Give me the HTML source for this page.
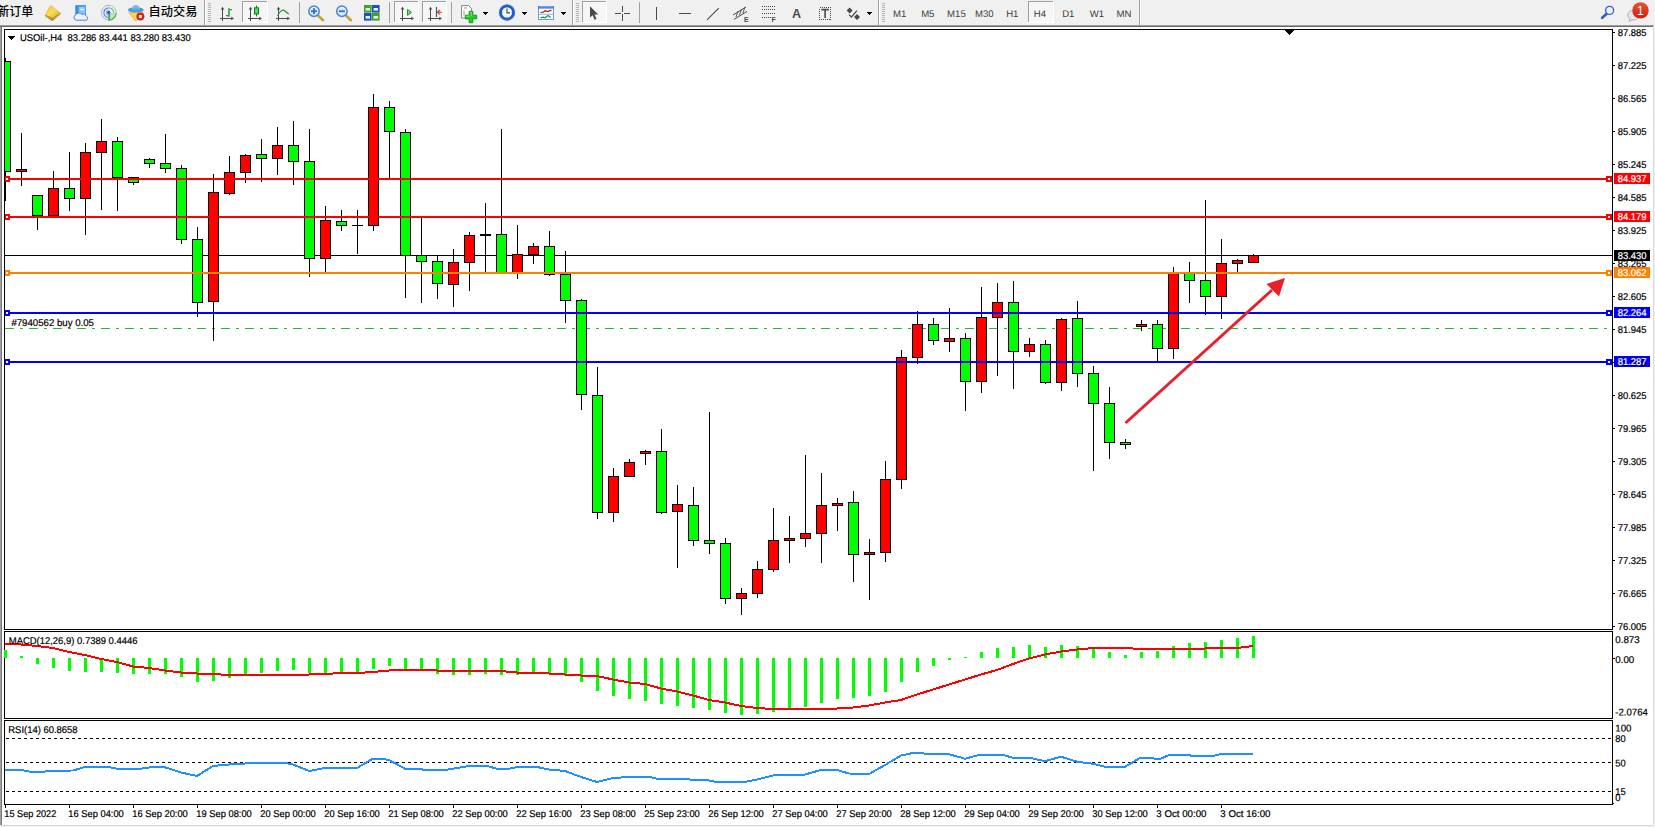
<!DOCTYPE html>
<html><head><meta charset="utf-8"><title>USOil H4</title>
<style>
html,body{margin:0;padding:0;background:#fff;overflow:hidden}
body{width:1655px;height:827px;position:relative;font-family:"Liberation Sans","Noto Sans CJK SC",sans-serif}
#tb{position:absolute;left:0;top:0;width:1655px;height:25px;background:#f0f0f0}
#tb .strip{position:absolute;left:0;top:25px;width:1655px;height:2px;background:#a0a0a0}
</style></head><body>
<svg width="1655" height="827" viewBox="0 0 1655 827" style="position:absolute;left:0;top:0" shape-rendering="crispEdges"><rect x="0" y="25" width="1655" height="802" fill="#ffffff"/>
<rect x="5" y="255" width="1607" height="1" fill="#000"/>
<line x1="5" y1="328.5" x2="1612" y2="328.5" stroke="#20c020" stroke-width="1" stroke-dasharray="9,6,3,6"/>
<rect x="5" y="58" width="1" height="143" fill="#000"/>
<rect x="0" y="61" width="11" height="111" fill="#000"/>
<rect x="1" y="62" width="9" height="109" fill="#00ff00"/>
<rect x="21" y="133" width="1" height="53" fill="#000"/>
<rect x="16" y="169" width="11" height="3" fill="#000"/>
<rect x="17" y="170" width="9" height="1" fill="#ff0000"/>
<rect x="37" y="195" width="1" height="35" fill="#000"/>
<rect x="32" y="195" width="11" height="21" fill="#000"/>
<rect x="33" y="196" width="9" height="19" fill="#00ff00"/>
<rect x="53" y="171" width="1" height="45" fill="#000"/>
<rect x="48" y="188" width="11" height="28" fill="#000"/>
<rect x="49" y="189" width="9" height="26" fill="#ff0000"/>
<rect x="69" y="152" width="1" height="59" fill="#000"/>
<rect x="64" y="188" width="11" height="11" fill="#000"/>
<rect x="65" y="189" width="9" height="9" fill="#00ff00"/>
<rect x="85" y="143" width="1" height="92" fill="#000"/>
<rect x="80" y="152" width="11" height="47" fill="#000"/>
<rect x="81" y="153" width="9" height="45" fill="#ff0000"/>
<rect x="101" y="119" width="1" height="91" fill="#000"/>
<rect x="96" y="141" width="11" height="12" fill="#000"/>
<rect x="97" y="142" width="9" height="10" fill="#ff0000"/>
<rect x="117" y="137" width="1" height="74" fill="#000"/>
<rect x="112" y="141" width="11" height="37" fill="#000"/>
<rect x="113" y="142" width="9" height="35" fill="#00ff00"/>
<rect x="133" y="177" width="1" height="8" fill="#000"/>
<rect x="128" y="177" width="11" height="6" fill="#000"/>
<rect x="129" y="178" width="9" height="4" fill="#00ff00"/>
<rect x="149" y="158" width="1" height="10" fill="#000"/>
<rect x="144" y="159" width="11" height="5" fill="#000"/>
<rect x="145" y="160" width="9" height="3" fill="#00ff00"/>
<rect x="165" y="134" width="1" height="39" fill="#000"/>
<rect x="160" y="163" width="11" height="6" fill="#000"/>
<rect x="161" y="164" width="9" height="4" fill="#00ff00"/>
<rect x="181" y="165" width="1" height="79" fill="#000"/>
<rect x="176" y="168" width="11" height="72" fill="#000"/>
<rect x="177" y="169" width="9" height="70" fill="#00ff00"/>
<rect x="197" y="227" width="1" height="90" fill="#000"/>
<rect x="192" y="239" width="11" height="64" fill="#000"/>
<rect x="193" y="240" width="9" height="62" fill="#00ff00"/>
<rect x="213" y="174" width="1" height="167" fill="#000"/>
<rect x="208" y="192" width="11" height="110" fill="#000"/>
<rect x="209" y="193" width="9" height="108" fill="#ff0000"/>
<rect x="229" y="156" width="1" height="39" fill="#000"/>
<rect x="224" y="172" width="11" height="22" fill="#000"/>
<rect x="225" y="173" width="9" height="20" fill="#ff0000"/>
<rect x="245" y="154" width="1" height="29" fill="#000"/>
<rect x="240" y="155" width="11" height="18" fill="#000"/>
<rect x="241" y="156" width="9" height="16" fill="#ff0000"/>
<rect x="261" y="139" width="1" height="43" fill="#000"/>
<rect x="256" y="154" width="11" height="5" fill="#000"/>
<rect x="257" y="155" width="9" height="3" fill="#00ff00"/>
<rect x="277" y="127" width="1" height="48" fill="#000"/>
<rect x="272" y="145" width="11" height="14" fill="#000"/>
<rect x="273" y="146" width="9" height="12" fill="#ff0000"/>
<rect x="293" y="121" width="1" height="64" fill="#000"/>
<rect x="288" y="145" width="11" height="17" fill="#000"/>
<rect x="289" y="146" width="9" height="15" fill="#00ff00"/>
<rect x="309" y="129" width="1" height="148" fill="#000"/>
<rect x="304" y="161" width="11" height="98" fill="#000"/>
<rect x="305" y="162" width="9" height="96" fill="#00ff00"/>
<rect x="325" y="206" width="1" height="66" fill="#000"/>
<rect x="320" y="220" width="11" height="39" fill="#000"/>
<rect x="321" y="221" width="9" height="37" fill="#ff0000"/>
<rect x="341" y="210" width="1" height="21" fill="#000"/>
<rect x="336" y="221" width="11" height="5" fill="#000"/>
<rect x="337" y="222" width="9" height="3" fill="#00ff00"/>
<rect x="357" y="210" width="1" height="44" fill="#000"/>
<rect x="352" y="225" width="11" height="1" fill="#000"/>
<rect x="373" y="94" width="1" height="137" fill="#000"/>
<rect x="368" y="107" width="11" height="119" fill="#000"/>
<rect x="369" y="108" width="9" height="117" fill="#ff0000"/>
<rect x="389" y="101" width="1" height="77" fill="#000"/>
<rect x="384" y="107" width="11" height="25" fill="#000"/>
<rect x="385" y="108" width="9" height="23" fill="#00ff00"/>
<rect x="405" y="129" width="1" height="169" fill="#000"/>
<rect x="400" y="132" width="11" height="124" fill="#000"/>
<rect x="401" y="133" width="9" height="122" fill="#00ff00"/>
<rect x="421" y="217" width="1" height="86" fill="#000"/>
<rect x="416" y="255" width="11" height="7" fill="#000"/>
<rect x="417" y="256" width="9" height="5" fill="#00ff00"/>
<rect x="437" y="256" width="1" height="43" fill="#000"/>
<rect x="432" y="261" width="11" height="23" fill="#000"/>
<rect x="433" y="262" width="9" height="21" fill="#00ff00"/>
<rect x="453" y="249" width="1" height="58" fill="#000"/>
<rect x="448" y="262" width="11" height="23" fill="#000"/>
<rect x="449" y="263" width="9" height="21" fill="#ff0000"/>
<rect x="469" y="232" width="1" height="59" fill="#000"/>
<rect x="464" y="235" width="11" height="28" fill="#000"/>
<rect x="465" y="236" width="9" height="26" fill="#ff0000"/>
<rect x="485" y="203" width="1" height="69" fill="#000"/>
<rect x="480" y="234" width="11" height="2" fill="#000"/>
<rect x="501" y="129" width="1" height="144" fill="#000"/>
<rect x="496" y="234" width="11" height="39" fill="#000"/>
<rect x="497" y="235" width="9" height="37" fill="#00ff00"/>
<rect x="517" y="225" width="1" height="54" fill="#000"/>
<rect x="512" y="254" width="11" height="19" fill="#000"/>
<rect x="513" y="255" width="9" height="17" fill="#ff0000"/>
<rect x="533" y="243" width="1" height="21" fill="#000"/>
<rect x="528" y="246" width="11" height="9" fill="#000"/>
<rect x="529" y="247" width="9" height="7" fill="#ff0000"/>
<rect x="549" y="231" width="1" height="45" fill="#000"/>
<rect x="544" y="246" width="11" height="29" fill="#000"/>
<rect x="545" y="247" width="9" height="27" fill="#00ff00"/>
<rect x="565" y="251" width="1" height="72" fill="#000"/>
<rect x="560" y="274" width="11" height="27" fill="#000"/>
<rect x="561" y="275" width="9" height="25" fill="#00ff00"/>
<rect x="581" y="299" width="1" height="111" fill="#000"/>
<rect x="576" y="300" width="11" height="95" fill="#000"/>
<rect x="577" y="301" width="9" height="93" fill="#00ff00"/>
<rect x="597" y="367" width="1" height="152" fill="#000"/>
<rect x="592" y="395" width="11" height="118" fill="#000"/>
<rect x="593" y="396" width="9" height="116" fill="#00ff00"/>
<rect x="613" y="468" width="1" height="54" fill="#000"/>
<rect x="608" y="476" width="11" height="37" fill="#000"/>
<rect x="609" y="477" width="9" height="35" fill="#ff0000"/>
<rect x="629" y="459" width="1" height="18" fill="#000"/>
<rect x="624" y="462" width="11" height="15" fill="#000"/>
<rect x="625" y="463" width="9" height="13" fill="#ff0000"/>
<rect x="645" y="450" width="1" height="15" fill="#000"/>
<rect x="640" y="451" width="11" height="3" fill="#000"/>
<rect x="641" y="452" width="9" height="1" fill="#ff0000"/>
<rect x="661" y="429" width="1" height="85" fill="#000"/>
<rect x="656" y="451" width="11" height="62" fill="#000"/>
<rect x="657" y="452" width="9" height="60" fill="#00ff00"/>
<rect x="677" y="485" width="1" height="83" fill="#000"/>
<rect x="672" y="504" width="11" height="8" fill="#000"/>
<rect x="673" y="505" width="9" height="6" fill="#ff0000"/>
<rect x="693" y="487" width="1" height="59" fill="#000"/>
<rect x="688" y="505" width="11" height="36" fill="#000"/>
<rect x="689" y="506" width="9" height="34" fill="#00ff00"/>
<rect x="709" y="412" width="1" height="142" fill="#000"/>
<rect x="704" y="540" width="11" height="4" fill="#000"/>
<rect x="705" y="541" width="9" height="2" fill="#00ff00"/>
<rect x="725" y="538" width="1" height="66" fill="#000"/>
<rect x="720" y="543" width="11" height="56" fill="#000"/>
<rect x="721" y="544" width="9" height="54" fill="#00ff00"/>
<rect x="741" y="588" width="1" height="27" fill="#000"/>
<rect x="736" y="593" width="11" height="6" fill="#000"/>
<rect x="737" y="594" width="9" height="4" fill="#ff0000"/>
<rect x="757" y="561" width="1" height="37" fill="#000"/>
<rect x="752" y="569" width="11" height="25" fill="#000"/>
<rect x="753" y="570" width="9" height="23" fill="#ff0000"/>
<rect x="773" y="508" width="1" height="64" fill="#000"/>
<rect x="768" y="540" width="11" height="30" fill="#000"/>
<rect x="769" y="541" width="9" height="28" fill="#ff0000"/>
<rect x="789" y="516" width="1" height="47" fill="#000"/>
<rect x="784" y="538" width="11" height="3" fill="#000"/>
<rect x="785" y="539" width="9" height="1" fill="#ff0000"/>
<rect x="805" y="455" width="1" height="92" fill="#000"/>
<rect x="800" y="533" width="11" height="6" fill="#000"/>
<rect x="801" y="534" width="9" height="4" fill="#ff0000"/>
<rect x="821" y="473" width="1" height="90" fill="#000"/>
<rect x="816" y="505" width="11" height="29" fill="#000"/>
<rect x="817" y="506" width="9" height="27" fill="#ff0000"/>
<rect x="837" y="498" width="1" height="33" fill="#000"/>
<rect x="832" y="503" width="11" height="3" fill="#000"/>
<rect x="833" y="504" width="9" height="1" fill="#ff0000"/>
<rect x="853" y="491" width="1" height="91" fill="#000"/>
<rect x="848" y="502" width="11" height="53" fill="#000"/>
<rect x="849" y="503" width="9" height="51" fill="#00ff00"/>
<rect x="869" y="539" width="1" height="61" fill="#000"/>
<rect x="864" y="552" width="11" height="3" fill="#000"/>
<rect x="865" y="553" width="9" height="1" fill="#ff0000"/>
<rect x="885" y="461" width="1" height="101" fill="#000"/>
<rect x="880" y="479" width="11" height="74" fill="#000"/>
<rect x="881" y="480" width="9" height="72" fill="#ff0000"/>
<rect x="901" y="350" width="1" height="139" fill="#000"/>
<rect x="896" y="357" width="11" height="123" fill="#000"/>
<rect x="897" y="358" width="9" height="121" fill="#ff0000"/>
<rect x="917" y="311" width="1" height="53" fill="#000"/>
<rect x="912" y="324" width="11" height="34" fill="#000"/>
<rect x="913" y="325" width="9" height="32" fill="#ff0000"/>
<rect x="933" y="318" width="1" height="27" fill="#000"/>
<rect x="928" y="324" width="11" height="17" fill="#000"/>
<rect x="929" y="325" width="9" height="15" fill="#00ff00"/>
<rect x="949" y="308" width="1" height="44" fill="#000"/>
<rect x="944" y="338" width="11" height="4" fill="#000"/>
<rect x="945" y="339" width="9" height="2" fill="#ff0000"/>
<rect x="965" y="333" width="1" height="78" fill="#000"/>
<rect x="960" y="338" width="11" height="44" fill="#000"/>
<rect x="961" y="339" width="9" height="42" fill="#00ff00"/>
<rect x="981" y="287" width="1" height="106" fill="#000"/>
<rect x="976" y="317" width="11" height="65" fill="#000"/>
<rect x="977" y="318" width="9" height="63" fill="#ff0000"/>
<rect x="997" y="283" width="1" height="93" fill="#000"/>
<rect x="992" y="302" width="11" height="16" fill="#000"/>
<rect x="993" y="303" width="9" height="14" fill="#ff0000"/>
<rect x="1013" y="281" width="1" height="108" fill="#000"/>
<rect x="1008" y="302" width="11" height="50" fill="#000"/>
<rect x="1009" y="303" width="9" height="48" fill="#00ff00"/>
<rect x="1029" y="338" width="1" height="19" fill="#000"/>
<rect x="1024" y="344" width="11" height="8" fill="#000"/>
<rect x="1025" y="345" width="9" height="6" fill="#ff0000"/>
<rect x="1045" y="340" width="1" height="44" fill="#000"/>
<rect x="1040" y="344" width="11" height="39" fill="#000"/>
<rect x="1041" y="345" width="9" height="37" fill="#00ff00"/>
<rect x="1061" y="318" width="1" height="73" fill="#000"/>
<rect x="1056" y="319" width="11" height="64" fill="#000"/>
<rect x="1057" y="320" width="9" height="62" fill="#ff0000"/>
<rect x="1077" y="301" width="1" height="86" fill="#000"/>
<rect x="1072" y="318" width="11" height="56" fill="#000"/>
<rect x="1073" y="319" width="9" height="54" fill="#00ff00"/>
<rect x="1093" y="366" width="1" height="105" fill="#000"/>
<rect x="1088" y="373" width="11" height="31" fill="#000"/>
<rect x="1089" y="374" width="9" height="29" fill="#00ff00"/>
<rect x="1109" y="387" width="1" height="72" fill="#000"/>
<rect x="1104" y="403" width="11" height="40" fill="#000"/>
<rect x="1105" y="404" width="9" height="38" fill="#00ff00"/>
<rect x="1125" y="439" width="1" height="10" fill="#000"/>
<rect x="1120" y="442" width="11" height="3" fill="#000"/>
<rect x="1121" y="443" width="9" height="1" fill="#00ff00"/>
<rect x="1141" y="320" width="1" height="11" fill="#000"/>
<rect x="1136" y="324" width="11" height="3" fill="#000"/>
<rect x="1137" y="325" width="9" height="1" fill="#ff0000"/>
<rect x="1157" y="320" width="1" height="41" fill="#000"/>
<rect x="1152" y="324" width="11" height="25" fill="#000"/>
<rect x="1153" y="325" width="9" height="23" fill="#00ff00"/>
<rect x="1173" y="267" width="1" height="92" fill="#000"/>
<rect x="1168" y="273" width="11" height="76" fill="#000"/>
<rect x="1169" y="274" width="9" height="74" fill="#ff0000"/>
<rect x="1189" y="262" width="1" height="41" fill="#000"/>
<rect x="1184" y="273" width="11" height="8" fill="#000"/>
<rect x="1185" y="274" width="9" height="6" fill="#00ff00"/>
<rect x="1205" y="200" width="1" height="115" fill="#000"/>
<rect x="1200" y="280" width="11" height="17" fill="#000"/>
<rect x="1201" y="281" width="9" height="15" fill="#00ff00"/>
<rect x="1221" y="239" width="1" height="80" fill="#000"/>
<rect x="1216" y="263" width="11" height="34" fill="#000"/>
<rect x="1217" y="264" width="9" height="32" fill="#ff0000"/>
<rect x="1237" y="259" width="1" height="13" fill="#000"/>
<rect x="1232" y="260" width="11" height="4" fill="#000"/>
<rect x="1233" y="261" width="9" height="2" fill="#ff0000"/>
<rect x="1253" y="254" width="1" height="9" fill="#000"/>
<rect x="1248" y="255" width="11" height="8" fill="#000"/>
<rect x="1249" y="256" width="9" height="6" fill="#ff0000"/>
<rect x="5" y="178" width="1607" height="2" fill="#ff0000"/>
<rect x="4" y="176" width="6" height="6" fill="#ff0000"/>
<rect x="6" y="178" width="2" height="2" fill="#fff"/>
<rect x="1606" y="176" width="6" height="6" fill="#ff0000"/>
<rect x="1608" y="178" width="2" height="2" fill="#fff"/>
<rect x="5" y="216" width="1607" height="2" fill="#ff0000"/>
<rect x="4" y="214" width="6" height="6" fill="#ff0000"/>
<rect x="6" y="216" width="2" height="2" fill="#fff"/>
<rect x="1606" y="214" width="6" height="6" fill="#ff0000"/>
<rect x="1608" y="216" width="2" height="2" fill="#fff"/>
<rect x="5" y="272" width="1607" height="2" fill="#ff8000"/>
<rect x="4" y="270" width="6" height="6" fill="#ff8000"/>
<rect x="6" y="272" width="2" height="2" fill="#fff"/>
<rect x="1606" y="270" width="6" height="6" fill="#ff8000"/>
<rect x="1608" y="272" width="2" height="2" fill="#fff"/>
<rect x="5" y="312" width="1607" height="2" fill="#0000ff"/>
<rect x="4" y="310" width="6" height="6" fill="#0000ff"/>
<rect x="6" y="312" width="2" height="2" fill="#fff"/>
<rect x="1606" y="310" width="6" height="6" fill="#0000ff"/>
<rect x="1608" y="312" width="2" height="2" fill="#fff"/>
<rect x="5" y="361" width="1607" height="2" fill="#0000ff"/>
<rect x="4" y="359" width="6" height="6" fill="#0000ff"/>
<rect x="6" y="361" width="2" height="2" fill="#fff"/>
<rect x="1606" y="359" width="6" height="6" fill="#0000ff"/>
<rect x="1608" y="361" width="2" height="2" fill="#fff"/>
<rect x="0" y="25" width="4" height="802" fill="#fff"/>
<rect x="0" y="25" width="1" height="802" fill="#a0a0a0"/>
<rect x="1" y="25" width="1" height="802" fill="#787878"/>
<rect x="4" y="29" width="1" height="776" fill="#000"/>
<rect x="4" y="29" width="1609" height="1" fill="#000"/>
<rect x="1612" y="29" width="1" height="776" fill="#000"/>
<rect x="4" y="629" width="1609" height="1" fill="#000"/>
<rect x="4" y="630" width="1609" height="1" fill="#fff"/>
<rect x="4" y="631" width="1609" height="1" fill="#000"/>
<rect x="4" y="718" width="1609" height="1" fill="#000"/>
<rect x="4" y="719" width="1609" height="1" fill="#fff"/>
<rect x="4" y="720" width="1609" height="1" fill="#000"/>
<rect x="4" y="804" width="1609" height="1" fill="#000"/>
<rect x="5" y="805" width="1650" height="20" fill="#fff"/>
<rect x="1285" y="30" width="9" height="1" fill="#000"/>
<rect x="1286" y="31" width="7" height="1" fill="#000"/>
<rect x="1287" y="32" width="5" height="1" fill="#000"/>
<rect x="1288" y="33" width="3" height="1" fill="#000"/>
<rect x="1289" y="34" width="1" height="1" fill="#000"/>
<rect x="1613" y="32" width="2" height="1" fill="#000"/>
<rect x="1613" y="65" width="2" height="1" fill="#000"/>
<rect x="1613" y="98" width="2" height="1" fill="#000"/>
<rect x="1613" y="131" width="2" height="1" fill="#000"/>
<rect x="1613" y="164" width="2" height="1" fill="#000"/>
<rect x="1613" y="197" width="2" height="1" fill="#000"/>
<rect x="1613" y="230" width="2" height="1" fill="#000"/>
<rect x="1613" y="263" width="2" height="1" fill="#000"/>
<rect x="1613" y="296" width="2" height="1" fill="#000"/>
<rect x="1613" y="329" width="2" height="1" fill="#000"/>
<rect x="1613" y="362" width="2" height="1" fill="#000"/>
<rect x="1613" y="395" width="2" height="1" fill="#000"/>
<rect x="1613" y="428" width="2" height="1" fill="#000"/>
<rect x="1613" y="461" width="2" height="1" fill="#000"/>
<rect x="1613" y="494" width="2" height="1" fill="#000"/>
<rect x="1613" y="527" width="2" height="1" fill="#000"/>
<rect x="1613" y="560" width="2" height="1" fill="#000"/>
<rect x="1613" y="593" width="2" height="1" fill="#000"/>
<rect x="1613" y="626" width="2" height="1" fill="#000"/>
<rect x="4" y="650" width="3" height="8" fill="#00ff00"/>
<rect x="20" y="656" width="3" height="2" fill="#00ff00"/>
<rect x="36" y="658" width="3" height="6" fill="#00ff00"/>
<rect x="52" y="658" width="3" height="10" fill="#00ff00"/>
<rect x="68" y="658" width="3" height="13" fill="#00ff00"/>
<rect x="84" y="658" width="3" height="14" fill="#00ff00"/>
<rect x="100" y="658" width="3" height="14" fill="#00ff00"/>
<rect x="116" y="658" width="3" height="15" fill="#00ff00"/>
<rect x="132" y="658" width="3" height="16" fill="#00ff00"/>
<rect x="148" y="658" width="3" height="16" fill="#00ff00"/>
<rect x="164" y="658" width="3" height="16" fill="#00ff00"/>
<rect x="180" y="658" width="3" height="19" fill="#00ff00"/>
<rect x="196" y="658" width="3" height="24" fill="#00ff00"/>
<rect x="212" y="658" width="3" height="23" fill="#00ff00"/>
<rect x="228" y="658" width="3" height="20" fill="#00ff00"/>
<rect x="244" y="658" width="3" height="17" fill="#00ff00"/>
<rect x="260" y="658" width="3" height="15" fill="#00ff00"/>
<rect x="276" y="658" width="3" height="13" fill="#00ff00"/>
<rect x="292" y="658" width="3" height="12" fill="#00ff00"/>
<rect x="308" y="658" width="3" height="15" fill="#00ff00"/>
<rect x="324" y="658" width="3" height="15" fill="#00ff00"/>
<rect x="340" y="658" width="3" height="15" fill="#00ff00"/>
<rect x="356" y="658" width="3" height="14" fill="#00ff00"/>
<rect x="372" y="658" width="3" height="11" fill="#00ff00"/>
<rect x="388" y="658" width="3" height="8" fill="#00ff00"/>
<rect x="404" y="658" width="3" height="11" fill="#00ff00"/>
<rect x="420" y="658" width="3" height="12" fill="#00ff00"/>
<rect x="436" y="658" width="3" height="16" fill="#00ff00"/>
<rect x="452" y="658" width="3" height="17" fill="#00ff00"/>
<rect x="468" y="658" width="3" height="17" fill="#00ff00"/>
<rect x="484" y="658" width="3" height="16" fill="#00ff00"/>
<rect x="500" y="658" width="3" height="17" fill="#00ff00"/>
<rect x="516" y="658" width="3" height="17" fill="#00ff00"/>
<rect x="532" y="658" width="3" height="15" fill="#00ff00"/>
<rect x="548" y="658" width="3" height="16" fill="#00ff00"/>
<rect x="564" y="658" width="3" height="18" fill="#00ff00"/>
<rect x="580" y="658" width="3" height="24" fill="#00ff00"/>
<rect x="596" y="658" width="3" height="33" fill="#00ff00"/>
<rect x="612" y="658" width="3" height="38" fill="#00ff00"/>
<rect x="628" y="658" width="3" height="41" fill="#00ff00"/>
<rect x="644" y="658" width="3" height="43" fill="#00ff00"/>
<rect x="660" y="658" width="3" height="46" fill="#00ff00"/>
<rect x="676" y="658" width="3" height="48" fill="#00ff00"/>
<rect x="692" y="658" width="3" height="50" fill="#00ff00"/>
<rect x="708" y="658" width="3" height="52" fill="#00ff00"/>
<rect x="724" y="658" width="3" height="55" fill="#00ff00"/>
<rect x="740" y="658" width="3" height="57" fill="#00ff00"/>
<rect x="756" y="658" width="3" height="56" fill="#00ff00"/>
<rect x="772" y="658" width="3" height="54" fill="#00ff00"/>
<rect x="788" y="658" width="3" height="51" fill="#00ff00"/>
<rect x="804" y="658" width="3" height="49" fill="#00ff00"/>
<rect x="820" y="658" width="3" height="45" fill="#00ff00"/>
<rect x="836" y="658" width="3" height="41" fill="#00ff00"/>
<rect x="852" y="658" width="3" height="40" fill="#00ff00"/>
<rect x="868" y="658" width="3" height="38" fill="#00ff00"/>
<rect x="884" y="658" width="3" height="34" fill="#00ff00"/>
<rect x="900" y="658" width="3" height="24" fill="#00ff00"/>
<rect x="916" y="658" width="3" height="14" fill="#00ff00"/>
<rect x="932" y="658" width="3" height="8" fill="#00ff00"/>
<rect x="948" y="658" width="3" height="2" fill="#00ff00"/>
<rect x="964" y="657" width="3" height="1" fill="#00ff00"/>
<rect x="980" y="652" width="3" height="6" fill="#00ff00"/>
<rect x="996" y="648" width="3" height="10" fill="#00ff00"/>
<rect x="1012" y="647" width="3" height="11" fill="#00ff00"/>
<rect x="1028" y="645" width="3" height="13" fill="#00ff00"/>
<rect x="1044" y="647" width="3" height="11" fill="#00ff00"/>
<rect x="1060" y="645" width="3" height="13" fill="#00ff00"/>
<rect x="1076" y="646" width="3" height="12" fill="#00ff00"/>
<rect x="1092" y="649" width="3" height="9" fill="#00ff00"/>
<rect x="1108" y="652" width="3" height="6" fill="#00ff00"/>
<rect x="1124" y="655" width="3" height="3" fill="#00ff00"/>
<rect x="1140" y="652" width="3" height="6" fill="#00ff00"/>
<rect x="1156" y="651" width="3" height="7" fill="#00ff00"/>
<rect x="1172" y="646" width="3" height="12" fill="#00ff00"/>
<rect x="1188" y="643" width="3" height="15" fill="#00ff00"/>
<rect x="1204" y="642" width="3" height="16" fill="#00ff00"/>
<rect x="1220" y="640" width="3" height="18" fill="#00ff00"/>
<rect x="1236" y="638" width="3" height="20" fill="#00ff00"/>
<rect x="1252" y="636" width="3" height="22" fill="#00ff00"/>
<polyline fill="none" stroke="#ff0000" stroke-width="2" stroke-linejoin="round" points="5,644 21,644.5 37,646 53,648 69,652 85,655 101,659 117,662 133,666.5 149,668 165,670.5 181,672.5 197,673.5 213,674 229,675 245,675 261,675 277,675 293,674.5 309,674.5 325,674 341,673 357,673 373,672 389,670.5 405,669.5 421,669.5 437,670.5 453,671 469,671 485,671 501,671 517,672.5 533,673 549,673.5 565,674.5 581,675.5 597,676 613,679.5 629,682.5 645,684 661,688.5 677,691.5 693,695.5 709,700 725,702.5 741,706 757,708 773,709 789,709 805,709 821,709 837,708.5 853,707.5 869,705.5 885,702.5 901,700 917,694.5 933,689.5 949,684.5 965,679.5 981,674.5 997,670 1013,664 1029,658.5 1045,654.5 1061,651.5 1077,649.5 1093,648 1109,647.5 1125,648 1141,649 1157,649 1173,649 1189,649 1205,648.5 1221,648 1237,648 1245,647 1253,646"/>
<line x1="5" y1="738.5" x2="1612" y2="738.5" stroke="#000" stroke-width="1" stroke-dasharray="3,3" stroke-dashoffset="-1"/>
<line x1="5" y1="762.5" x2="1612" y2="762.5" stroke="#000" stroke-width="1" stroke-dasharray="3,3" stroke-dashoffset="-1"/>
<line x1="5" y1="791.5" x2="1612" y2="791.5" stroke="#000" stroke-width="1" stroke-dasharray="3,3" stroke-dashoffset="-1"/>
<polyline fill="none" stroke="#1e90ff" stroke-width="2" stroke-linejoin="round" points="5,770 21,770 29,771.5 45,771.5 53,770.7 73,770.5 85,767 109,767 117,768.7 141,768.7 152,767 164,767 181,772.5 197,776 213,766 229,764.5 245,763.5 261,763 285,763 293,764.5 309,771 325,768 357,768 373,758.5 381,758.5 389,760 405,768.7 421,769.2 425,770 445,770 453,768.7 469,766 485,765.5 497,768.7 509,768.7 517,767 537,767 549,769.5 565,771 581,777 597,782 613,778 629,777 649,776.7 657,778.7 685,778.7 693,780 709,780.5 717,782 745,782 757,779.5 773,775.5 797,775 805,774.5 821,770 837,770 849,773.5 869,774 885,765 901,755.5 913,753 921,753 929,754.2 949,754.2 965,758.7 981,754.5 1001,754.5 1013,757.7 1029,757.7 1045,761.2 1061,756.7 1077,761.7 1093,763.7 1105,766.7 1125,766.7 1141,757.5 1149,757.5 1157,759 1160,759 1170,754.6 1189,754.6 1191,756 1213,756 1222,753.8 1253,753.8"/>
<rect x="1613" y="658" width="2" height="1" fill="#000"/>
<rect x="1613" y="803" width="1" height="1" fill="#000"/>
<rect x="1614" y="173" width="36" height="11" fill="#ff0000"/>
<rect x="1614" y="211" width="36" height="11" fill="#ff0000"/>
<rect x="1614" y="250" width="36" height="11" fill="#000"/>
<rect x="1614" y="267" width="36" height="11" fill="#ff8000"/>
<rect x="1614" y="307" width="36" height="11" fill="#0000ff"/>
<rect x="1614" y="356" width="36" height="11" fill="#0000ff"/>
<rect x="5" y="805" width="1" height="3" fill="#000"/>
<rect x="69" y="805" width="1" height="3" fill="#000"/>
<rect x="133" y="805" width="1" height="3" fill="#000"/>
<rect x="197" y="805" width="1" height="3" fill="#000"/>
<rect x="261" y="805" width="1" height="3" fill="#000"/>
<rect x="325" y="805" width="1" height="3" fill="#000"/>
<rect x="389" y="805" width="1" height="3" fill="#000"/>
<rect x="453" y="805" width="1" height="3" fill="#000"/>
<rect x="517" y="805" width="1" height="3" fill="#000"/>
<rect x="581" y="805" width="1" height="3" fill="#000"/>
<rect x="645" y="805" width="1" height="3" fill="#000"/>
<rect x="709" y="805" width="1" height="3" fill="#000"/>
<rect x="773" y="805" width="1" height="3" fill="#000"/>
<rect x="837" y="805" width="1" height="3" fill="#000"/>
<rect x="901" y="805" width="1" height="3" fill="#000"/>
<rect x="965" y="805" width="1" height="3" fill="#000"/>
<rect x="1029" y="805" width="1" height="3" fill="#000"/>
<rect x="1093" y="805" width="1" height="3" fill="#000"/>
<rect x="1157" y="805" width="1" height="3" fill="#000"/>
<rect x="1221" y="805" width="1" height="3" fill="#000"/>
<rect x="8" y="36" width="7" height="1" fill="#000"/>
<rect x="9" y="37" width="5" height="1" fill="#000"/>
<rect x="10" y="38" width="3" height="1" fill="#000"/>
<rect x="11" y="39" width="1" height="1" fill="#000"/>
<rect x="0" y="825" width="1655" height="2" fill="#f0f0f0"/>
<rect x="0" y="825" width="1655" height="1" fill="#d8d8d8"/>
<rect x="1653" y="25" width="2" height="802" fill="#f0f0f0"/>
<rect x="1653" y="27" width="1" height="798" fill="#dcdcdc"/></svg>
<svg width="1655" height="827" viewBox="0 0 1655 827" style="position:absolute;left:0;top:0"><line x1="1125.5" y1="423" x2="1272" y2="290" stroke="#e8202a" stroke-width="3"/>
<polygon points="1285,278 1266.5,284 1279,296.5" fill="#e8202a"/><g font-family="'Liberation Sans',sans-serif" stroke-width="0.2"><text x="1617.7" y="36" fill="#000" stroke="#000" font-size="9.8" text-anchor="start"  transform="rotate(0.03 1617.7 36)" textLength="28.9" lengthAdjust="spacingAndGlyphs">87.885</text>
<text x="1617.7" y="69" fill="#000" stroke="#000" font-size="9.8" text-anchor="start"  transform="rotate(0.03 1617.7 69)" textLength="28.9" lengthAdjust="spacingAndGlyphs">87.225</text>
<text x="1617.7" y="102" fill="#000" stroke="#000" font-size="9.8" text-anchor="start"  transform="rotate(0.03 1617.7 102)" textLength="28.9" lengthAdjust="spacingAndGlyphs">86.565</text>
<text x="1617.7" y="135" fill="#000" stroke="#000" font-size="9.8" text-anchor="start"  transform="rotate(0.03 1617.7 135)" textLength="28.9" lengthAdjust="spacingAndGlyphs">85.905</text>
<text x="1617.7" y="168" fill="#000" stroke="#000" font-size="9.8" text-anchor="start"  transform="rotate(0.03 1617.7 168)" textLength="28.9" lengthAdjust="spacingAndGlyphs">85.245</text>
<text x="1617.7" y="201" fill="#000" stroke="#000" font-size="9.8" text-anchor="start"  transform="rotate(0.03 1617.7 201)" textLength="28.9" lengthAdjust="spacingAndGlyphs">84.585</text>
<text x="1617.7" y="234" fill="#000" stroke="#000" font-size="9.8" text-anchor="start"  transform="rotate(0.03 1617.7 234)" textLength="28.9" lengthAdjust="spacingAndGlyphs">83.925</text>
<text x="1617.7" y="267" fill="#000" stroke="#000" font-size="9.8" text-anchor="start"  transform="rotate(0.03 1617.7 267)" textLength="28.9" lengthAdjust="spacingAndGlyphs">83.265</text>
<text x="1617.7" y="300" fill="#000" stroke="#000" font-size="9.8" text-anchor="start"  transform="rotate(0.03 1617.7 300)" textLength="28.9" lengthAdjust="spacingAndGlyphs">82.605</text>
<text x="1617.7" y="333" fill="#000" stroke="#000" font-size="9.8" text-anchor="start"  transform="rotate(0.03 1617.7 333)" textLength="28.9" lengthAdjust="spacingAndGlyphs">81.945</text>
<text x="1617.7" y="366" fill="#000" stroke="#000" font-size="9.8" text-anchor="start"  transform="rotate(0.03 1617.7 366)" textLength="28.9" lengthAdjust="spacingAndGlyphs">81.285</text>
<text x="1617.7" y="399" fill="#000" stroke="#000" font-size="9.8" text-anchor="start"  transform="rotate(0.03 1617.7 399)" textLength="28.9" lengthAdjust="spacingAndGlyphs">80.625</text>
<text x="1617.7" y="432" fill="#000" stroke="#000" font-size="9.8" text-anchor="start"  transform="rotate(0.03 1617.7 432)" textLength="28.9" lengthAdjust="spacingAndGlyphs">79.965</text>
<text x="1617.7" y="465" fill="#000" stroke="#000" font-size="9.8" text-anchor="start"  transform="rotate(0.03 1617.7 465)" textLength="28.9" lengthAdjust="spacingAndGlyphs">79.305</text>
<text x="1617.7" y="498" fill="#000" stroke="#000" font-size="9.8" text-anchor="start"  transform="rotate(0.03 1617.7 498)" textLength="28.9" lengthAdjust="spacingAndGlyphs">78.645</text>
<text x="1617.7" y="531" fill="#000" stroke="#000" font-size="9.8" text-anchor="start"  transform="rotate(0.03 1617.7 531)" textLength="28.9" lengthAdjust="spacingAndGlyphs">77.985</text>
<text x="1617.7" y="564" fill="#000" stroke="#000" font-size="9.8" text-anchor="start"  transform="rotate(0.03 1617.7 564)" textLength="28.9" lengthAdjust="spacingAndGlyphs">77.325</text>
<text x="1617.7" y="597" fill="#000" stroke="#000" font-size="9.8" text-anchor="start"  transform="rotate(0.03 1617.7 597)" textLength="28.9" lengthAdjust="spacingAndGlyphs">76.665</text>
<text x="1617.7" y="630" fill="#000" stroke="#000" font-size="9.8" text-anchor="start"  transform="rotate(0.03 1617.7 630)" textLength="28.9" lengthAdjust="spacingAndGlyphs">76.005</text>
<text x="1615.3" y="643" fill="#000" stroke="#000" font-size="9.8" text-anchor="start"  transform="rotate(0.03 1615.3 643)" textLength="24.4" lengthAdjust="spacingAndGlyphs">0.873</text>
<text x="1615.3" y="663" fill="#000" stroke="#000" font-size="9.8" text-anchor="start"  transform="rotate(0.03 1615.3 663)" textLength="19" lengthAdjust="spacingAndGlyphs">0.00</text>
<text x="1615.3" y="715.5" fill="#000" stroke="#000" font-size="9.8" text-anchor="start"  transform="rotate(0.03 1615.3 715.5)" textLength="32.6" lengthAdjust="spacingAndGlyphs">-2.0764</text>
<text x="1615.3" y="731.5" fill="#000" stroke="#000" font-size="9.8" text-anchor="start"  transform="rotate(0.03 1615.3 731.5)" textLength="16.2" lengthAdjust="spacingAndGlyphs">100</text>
<text x="1615.3" y="742" fill="#000" stroke="#000" font-size="9.8" text-anchor="start"  transform="rotate(0.03 1615.3 742)" textLength="10.4" lengthAdjust="spacingAndGlyphs">80</text>
<text x="1615.3" y="766.5" fill="#000" stroke="#000" font-size="9.8" text-anchor="start"  transform="rotate(0.03 1615.3 766.5)" textLength="10.4" lengthAdjust="spacingAndGlyphs">50</text>
<text x="1615.3" y="795" fill="#000" stroke="#000" font-size="9.8" text-anchor="start"  transform="rotate(0.03 1615.3 795)" textLength="10.4" lengthAdjust="spacingAndGlyphs">15</text>
<text x="1615.3" y="801" fill="#000" stroke="#000" font-size="9.8" text-anchor="start"  transform="rotate(0.03 1615.3 801)" textLength="5.3" lengthAdjust="spacingAndGlyphs">0</text>
<text x="1617.7" y="182" fill="#fff" stroke="#fff" font-size="9.8" text-anchor="start"  transform="rotate(0.03 1617.7 182)" textLength="28.9" lengthAdjust="spacingAndGlyphs">84.937</text>
<text x="1617.7" y="220" fill="#fff" stroke="#fff" font-size="9.8" text-anchor="start"  transform="rotate(0.03 1617.7 220)" textLength="28.9" lengthAdjust="spacingAndGlyphs">84.179</text>
<text x="1617.7" y="259" fill="#fff" stroke="#fff" font-size="9.8" text-anchor="start"  transform="rotate(0.03 1617.7 259)" textLength="28.9" lengthAdjust="spacingAndGlyphs">83.430</text>
<text x="1617.7" y="276" fill="#fff" stroke="#fff" font-size="9.8" text-anchor="start"  transform="rotate(0.03 1617.7 276)" textLength="28.9" lengthAdjust="spacingAndGlyphs">83.062</text>
<text x="1617.7" y="316" fill="#fff" stroke="#fff" font-size="9.8" text-anchor="start"  transform="rotate(0.03 1617.7 316)" textLength="28.9" lengthAdjust="spacingAndGlyphs">82.264</text>
<text x="1617.7" y="365" fill="#fff" stroke="#fff" font-size="9.8" text-anchor="start"  transform="rotate(0.03 1617.7 365)" textLength="28.9" lengthAdjust="spacingAndGlyphs">81.287</text>
<text x="4.3" y="817" fill="#000" stroke="#000" font-size="9.8" text-anchor="start"  transform="rotate(0.03 4.3 817)" textLength="52" lengthAdjust="spacingAndGlyphs">15 Sep 2022</text>
<text x="68.3" y="817" fill="#000" stroke="#000" font-size="9.8" text-anchor="start"  transform="rotate(0.03 68.3 817)" textLength="55.5" lengthAdjust="spacingAndGlyphs">16 Sep 04:00</text>
<text x="132.3" y="817" fill="#000" stroke="#000" font-size="9.8" text-anchor="start"  transform="rotate(0.03 132.3 817)" textLength="55.5" lengthAdjust="spacingAndGlyphs">16 Sep 20:00</text>
<text x="196.3" y="817" fill="#000" stroke="#000" font-size="9.8" text-anchor="start"  transform="rotate(0.03 196.3 817)" textLength="55.5" lengthAdjust="spacingAndGlyphs">19 Sep 08:00</text>
<text x="260.3" y="817" fill="#000" stroke="#000" font-size="9.8" text-anchor="start"  transform="rotate(0.03 260.3 817)" textLength="55.5" lengthAdjust="spacingAndGlyphs">20 Sep 00:00</text>
<text x="324.3" y="817" fill="#000" stroke="#000" font-size="9.8" text-anchor="start"  transform="rotate(0.03 324.3 817)" textLength="55.5" lengthAdjust="spacingAndGlyphs">20 Sep 16:00</text>
<text x="388.3" y="817" fill="#000" stroke="#000" font-size="9.8" text-anchor="start"  transform="rotate(0.03 388.3 817)" textLength="55.5" lengthAdjust="spacingAndGlyphs">21 Sep 08:00</text>
<text x="452.3" y="817" fill="#000" stroke="#000" font-size="9.8" text-anchor="start"  transform="rotate(0.03 452.3 817)" textLength="55.5" lengthAdjust="spacingAndGlyphs">22 Sep 00:00</text>
<text x="516.3" y="817" fill="#000" stroke="#000" font-size="9.8" text-anchor="start"  transform="rotate(0.03 516.3 817)" textLength="55.5" lengthAdjust="spacingAndGlyphs">22 Sep 16:00</text>
<text x="580.3" y="817" fill="#000" stroke="#000" font-size="9.8" text-anchor="start"  transform="rotate(0.03 580.3 817)" textLength="55.5" lengthAdjust="spacingAndGlyphs">23 Sep 08:00</text>
<text x="644.3" y="817" fill="#000" stroke="#000" font-size="9.8" text-anchor="start"  transform="rotate(0.03 644.3 817)" textLength="55.5" lengthAdjust="spacingAndGlyphs">25 Sep 23:00</text>
<text x="708.3" y="817" fill="#000" stroke="#000" font-size="9.8" text-anchor="start"  transform="rotate(0.03 708.3 817)" textLength="55.5" lengthAdjust="spacingAndGlyphs">26 Sep 12:00</text>
<text x="772.3" y="817" fill="#000" stroke="#000" font-size="9.8" text-anchor="start"  transform="rotate(0.03 772.3 817)" textLength="55.5" lengthAdjust="spacingAndGlyphs">27 Sep 04:00</text>
<text x="836.3" y="817" fill="#000" stroke="#000" font-size="9.8" text-anchor="start"  transform="rotate(0.03 836.3 817)" textLength="55.5" lengthAdjust="spacingAndGlyphs">27 Sep 20:00</text>
<text x="900.3" y="817" fill="#000" stroke="#000" font-size="9.8" text-anchor="start"  transform="rotate(0.03 900.3 817)" textLength="55.5" lengthAdjust="spacingAndGlyphs">28 Sep 12:00</text>
<text x="964.3" y="817" fill="#000" stroke="#000" font-size="9.8" text-anchor="start"  transform="rotate(0.03 964.3 817)" textLength="55.5" lengthAdjust="spacingAndGlyphs">29 Sep 04:00</text>
<text x="1028.3" y="817" fill="#000" stroke="#000" font-size="9.8" text-anchor="start"  transform="rotate(0.03 1028.3 817)" textLength="55.5" lengthAdjust="spacingAndGlyphs">29 Sep 20:00</text>
<text x="1092.3" y="817" fill="#000" stroke="#000" font-size="9.8" text-anchor="start"  transform="rotate(0.03 1092.3 817)" textLength="55.5" lengthAdjust="spacingAndGlyphs">30 Sep 12:00</text>
<text x="1156.3" y="817" fill="#000" stroke="#000" font-size="9.8" text-anchor="start"  transform="rotate(0.03 1156.3 817)" textLength="50.2" lengthAdjust="spacingAndGlyphs">3 Oct 00:00</text>
<text x="1220.3" y="817" fill="#000" stroke="#000" font-size="9.8" text-anchor="start"  transform="rotate(0.03 1220.3 817)" textLength="50.2" lengthAdjust="spacingAndGlyphs">3 Oct 16:00</text>
<text x="19.9" y="41" fill="#000" stroke="#000" font-size="9.8" text-anchor="start"  transform="rotate(0.03 19.9 41)" textLength="170.8" lengthAdjust="spacingAndGlyphs">USOil-,H4&#160; 83.286 83.441 83.280 83.430</text>
<text x="8.8" y="644" fill="#000" stroke="#000" font-size="9.8" text-anchor="start"  transform="rotate(0.03 8.8 644)" textLength="128.6" lengthAdjust="spacingAndGlyphs">MACD(12,26,9) 0.7389 0.4446</text>
<text x="8.3" y="733" fill="#000" stroke="#000" font-size="9.8" text-anchor="start"  transform="rotate(0.03 8.3 733)" textLength="69.3" lengthAdjust="spacingAndGlyphs">RSI(14) 60.8658</text>
<text x="11.4" y="326" fill="#000" stroke="#000" font-size="9.8" text-anchor="start"  transform="rotate(0.03 11.4 326)" textLength="82.5" lengthAdjust="spacingAndGlyphs">#7940562 buy 0.05</text></g></svg>
<div id="tb"><svg width="1655" height="27" viewBox="0 0 1655 27" style="position:absolute;left:0;top:0" font-family="'Liberation Sans',sans-serif"><text x="-2.7" y="16" font-size="12" font-weight="500" fill="#000" font-family="'Liberation Sans','Noto Sans CJK SC',sans-serif">新订单</text>
<defs><linearGradient id="bk" x1="0" y1="0" x2="1" y2="1"><stop offset="0" stop-color="#f4c838"/><stop offset=".5" stop-color="#f9dc58"/><stop offset="1" stop-color="#d9a21c"/></linearGradient></defs>
<path d="M50 6 L51.6 5.7 L60.9 13.8 L52.8 20.8 L51.4 20.6 L44.9 15.9z" fill="#a86e14"/>
<path d="M50 6.1 L51.6 5.8 L60.2 13 L52.8 18 L45.6 15z" fill="url(#bk)"/>
<path d="M45.4 16 L52.7 19.2 L60.4 13.9" stroke="#e8c878" stroke-width=".7" fill="none"/>
<rect x="75.3" y="5.2" width="10.6" height="9.6" fill="#2590f2"/><rect x="78.6" y="6.6" width="6.6" height="8" fill="#8cc6f8"/><rect x="80.4" y="8.8" width="3.6" height="1.3" fill="#ffffff"/>
<path d="M76.2 20.2 a2.9 2.9 0 0 1 -.2 -5.6 a3.4 3 0 0 1 6 -.2 a3 3 0 0 1 4.4 2 a2 2 0 0 1 -.2 3.8z" fill="#eef2fa" stroke="#4f7fca" stroke-width="1"/>
<path d="M108.8 12.8 L116 12.8 A7.4 7.4 0 0 1 108.8 20.2z" fill="#bfe0bf"/>
<g fill="none"><path d="M108.8 5.2 a7.4 7.4 0 0 0 0 14.8" stroke="#9db3e6" stroke-width="1"/><path d="M108.8 5.2 a7.4 7.4 0 0 1 7.4 7.4" stroke="#a9c8b4" stroke-width="1"/><path d="M108.8 7.8 a4.9 4.9 0 0 0 0 9.8" stroke="#5f84da" stroke-width="1.2"/><path d="M108.8 7.8 a4.9 4.9 0 0 1 4.9 4.9" stroke="#86b89a" stroke-width="1.2"/><path d="M108.8 10.2 a2.5 2.5 0 0 0 0 5" stroke="#7f9fe0" stroke-width="1"/><path d="M108.8 20.2 a7.4 7.4 0 0 0 7.4 -7.4" stroke="#58b058" stroke-width="1.2"/></g>
<line x1="109.2" y1="13" x2="109.2" y2="20.6" stroke="#2bb02b" stroke-width="1.5"/>
<circle cx="108.8" cy="12.5" r="1.7" fill="#2a5fd0"/>
<path d="M128.8 12.4 L143.3 12 L136.6 20.4 L134.8 20.4z" fill="#f5d650" stroke="#d9a820" stroke-width=".6"/>
<ellipse cx="135.8" cy="9.9" rx="7.8" ry="2.7" fill="#4a98da"/><path d="M131.8 9.4 a4 4.4 0 0 1 8 0z" fill="#79b8ec"/><ellipse cx="135.8" cy="9.6" rx="4" ry="1.1" fill="#5aa6e2"/>
<circle cx="140.4" cy="16.6" r="4" fill="#d8221c"/><rect x="138.9" y="15.1" width="3" height="3" fill="#fff"/>
<text x="148.6" y="16" font-size="12.2" font-weight="500" fill="#000" font-family="'Liberation Sans','Noto Sans CJK SC',sans-serif">自动交易</text>
<rect x="204" y="0" width="1" height="25" fill="#a0a0a0" shape-rendering="crispEdges"/><rect x="205" y="0" width="1" height="25" fill="#fff" shape-rendering="crispEdges"/>
<rect x="208" y="3" width="3" height="1" fill="#b4b4b4" shape-rendering="crispEdges"/>
<rect x="208" y="5" width="3" height="1" fill="#b4b4b4" shape-rendering="crispEdges"/>
<rect x="208" y="7" width="3" height="1" fill="#b4b4b4" shape-rendering="crispEdges"/>
<rect x="208" y="9" width="3" height="1" fill="#b4b4b4" shape-rendering="crispEdges"/>
<rect x="208" y="11" width="3" height="1" fill="#b4b4b4" shape-rendering="crispEdges"/>
<rect x="208" y="13" width="3" height="1" fill="#b4b4b4" shape-rendering="crispEdges"/>
<rect x="208" y="15" width="3" height="1" fill="#b4b4b4" shape-rendering="crispEdges"/>
<rect x="208" y="17" width="3" height="1" fill="#b4b4b4" shape-rendering="crispEdges"/>
<rect x="208" y="19" width="3" height="1" fill="#b4b4b4" shape-rendering="crispEdges"/>
<rect x="208" y="21" width="3" height="1" fill="#b4b4b4" shape-rendering="crispEdges"/>
<g stroke="#4a4a4a" stroke-width="1" fill="none" shape-rendering="crispEdges"><line x1="222.5" y1="8" x2="222.5" y2="21"/><line x1="220" y1="18.5" x2="233" y2="18.5"/></g>
<path d="M222.5 6.8 l-1.8 2.8 h3.6z M234 18.5 l-2.8 -1.8 v3.6z" fill="#4a4a4a"/>
<g fill="#1c9c2c"><rect x="228.2" y="8.2" width="1.5" height="8.6"/><rect x="229.7" y="9" width="2.2" height="1.3"/><rect x="226" y="15" width="2.2" height="1.3"/></g>
<g shape-rendering="crispEdges"><rect x="242" y="1" width="26" height="22" fill="#f6f6f6"/><rect x="242" y="1" width="26" height="1" fill="#a0a0a0"/><rect x="242" y="1" width="1" height="22" fill="#a0a0a0"/><rect x="242" y="22" width="26" height="1" fill="#fff"/><rect x="267" y="1" width="1" height="22" fill="#fff"/></g>
<g stroke="#4a4a4a" stroke-width="1" fill="none" shape-rendering="crispEdges"><line x1="250.5" y1="8" x2="250.5" y2="21"/><line x1="248" y1="18.5" x2="261" y2="18.5"/></g>
<path d="M250.5 6.8 l-1.8 2.8 h3.6z M262 18.5 l-2.8 -1.8 v3.6z" fill="#4a4a4a"/>
<line x1="256.5" y1="5.5" x2="256.5" y2="16.5" stroke="#147a1e" stroke-width="1"/><rect x="254.5" y="7.8" width="4" height="6.2" fill="#3ee06a" stroke="#147a1e" stroke-width="1"/>
<g stroke="#4a4a4a" stroke-width="1" fill="none" shape-rendering="crispEdges"><line x1="278.5" y1="8" x2="278.5" y2="21"/><line x1="276" y1="18.5" x2="289" y2="18.5"/></g>
<path d="M278.5 6.8 l-1.8 2.8 h3.6z M290 18.5 l-2.8 -1.8 v3.6z" fill="#4a4a4a"/>
<path d="M277.5 16 C280 10.5 283 9 285 11 S288 13.6 289 14" stroke="#2a9c3a" stroke-width="1.2" fill="none"/>
<rect x="299" y="2" width="1" height="21" fill="#a0a0a0" shape-rendering="crispEdges"/>
<line x1="318.2" y1="15.6" x2="323" y2="20.2" stroke="#c8a024" stroke-width="2.6" stroke-linecap="round"/>
<circle cx="314" cy="11.2" r="5.2" fill="#dcecfb" stroke="#4a86d8" stroke-width="1.5"/>
<rect x="311" y="10.3" width="6" height="1.9" fill="#3a74b6"/>
<rect x="313.05" y="8.2" width="1.9" height="6" fill="#3a74b6"/>
<line x1="346.09999999999997" y1="15.6" x2="350.9" y2="20.2" stroke="#c8a024" stroke-width="2.6" stroke-linecap="round"/>
<circle cx="341.9" cy="11.2" r="5.2" fill="#dcecfb" stroke="#4a86d8" stroke-width="1.5"/>
<rect x="338.9" y="10.3" width="6" height="1.9" fill="#3a74b6"/>
<rect x="364" y="5" width="7.6" height="7.6" fill="#3fa51f"/><rect x="365.6" y="8" width="4.4" height="2.6" fill="#eef4ff"/>
<rect x="372" y="5" width="7.6" height="7.6" fill="#1f4fc4"/><rect x="373.6" y="8" width="4.4" height="2.6" fill="#eef4ff"/>
<rect x="364" y="13" width="7.6" height="7.6" fill="#1f4fc4"/><rect x="365.6" y="16" width="4.4" height="2.6" fill="#eef4ff"/>
<rect x="372" y="13" width="7.6" height="7.6" fill="#3fa51f"/><rect x="373.6" y="16" width="4.4" height="2.6" fill="#eef4ff"/>
<rect x="389" y="2" width="1" height="21" fill="#a0a0a0" shape-rendering="crispEdges"/>
<g shape-rendering="crispEdges"><rect x="394" y="1" width="25" height="22" fill="#f6f6f6"/><rect x="394" y="1" width="25" height="1" fill="#a0a0a0"/><rect x="394" y="1" width="1" height="22" fill="#a0a0a0"/><rect x="394" y="22" width="25" height="1" fill="#fff"/><rect x="418" y="1" width="1" height="22" fill="#fff"/></g>
<g stroke="#4a4a4a" stroke-width="1" fill="none" shape-rendering="crispEdges"><line x1="402.5" y1="8" x2="402.5" y2="21"/><line x1="400" y1="18.5" x2="413" y2="18.5"/></g>
<path d="M402.5 6.8 l-1.8 2.8 h3.6z M414 18.5 l-2.8 -1.8 v3.6z" fill="#4a4a4a"/>
<path d="M407.5 9.4 l4 3 l-4 3z" fill="#6fe06f" stroke="#1a9a2a" stroke-width="1"/>
<g shape-rendering="crispEdges"><rect x="422" y="1" width="25" height="22" fill="#f6f6f6"/><rect x="422" y="1" width="25" height="1" fill="#a0a0a0"/><rect x="422" y="1" width="1" height="22" fill="#a0a0a0"/><rect x="422" y="22" width="25" height="1" fill="#fff"/><rect x="446" y="1" width="1" height="22" fill="#fff"/></g>
<g stroke="#4a4a4a" stroke-width="1" fill="none" shape-rendering="crispEdges"><line x1="430.5" y1="8" x2="430.5" y2="21"/><line x1="428" y1="18.5" x2="441" y2="18.5"/></g>
<path d="M430.5 6.8 l-1.8 2.8 h3.6z M442 18.5 l-2.8 -1.8 v3.6z" fill="#4a4a4a"/>
<line x1="436.5" y1="7" x2="436.5" y2="17" stroke="#1c5cae" stroke-width="1.2"/><path d="M442 12.3 h-4 M440 10 l-2.6 2.3 l2.6 2.3" stroke="#d04010" stroke-width="1.1" fill="none"/>
<rect x="451" y="2" width="1" height="21" fill="#a0a0a0" shape-rendering="crispEdges"/>
<path d="M461.5 5.5 h7 l3 3 v9.5 h-10z" fill="#fdfdfd" stroke="#8a8a8a" stroke-width="1"/><path d="M464 8 h3 M464 10.5 v5" stroke="#9a9a9a" stroke-width="1" fill="none"/>
<path d="M469.2 11.3 h3.6 v3.9 h3.9 v3.6 h-3.9 v3.9 h-3.6 v-3.9 h-3.9 v-3.6 h3.9z" fill="#22d022" stroke="#138a1c" stroke-width=".9"/><path d="M470 12.2 h1.4 v3.8 M466.2 16.2 h3.8" stroke="#8af08a" stroke-width=".8" fill="none"/>
<g shape-rendering="crispEdges" fill="#000"><rect x="483" y="12" width="5" height="1"/><rect x="484" y="13" width="3" height="1"/><rect x="485" y="14" width="1" height="1"/></g>
<circle cx="507" cy="12.5" r="6.6" fill="#f4f8ff" stroke="#1c58c8" stroke-width="2.9"/><circle cx="507" cy="12.5" r="7.7" fill="none" stroke="#4d86e6" stroke-width=".7"/><path d="M507 7.2 v1 M507 16.8 v1 M501.7 12.5 h1 M511.3 12.5 h1" stroke="#888" stroke-width=".8"/><path d="M507 8.5 v4.4 h3" stroke="#444" stroke-width="1.1" fill="none"/>
<g shape-rendering="crispEdges" fill="#000"><rect x="522" y="12" width="5" height="1"/><rect x="523" y="13" width="3" height="1"/><rect x="524" y="14" width="1" height="1"/></g>
<rect x="538.5" y="6.5" width="15" height="13" fill="#fff" stroke="#6f9be0" stroke-width="1"/><rect x="538" y="6" width="16" height="2.6" fill="#3f7fd6"/><rect x="539" y="6.4" width="14" height=".8" fill="#8fb8ee"/><line x1="539" y1="14.2" x2="553" y2="14.2" stroke="#8fb2e4" stroke-width="1"/>
<path d="M540.5 12.4 l2.6 -.2 l2 -1.4 l2.6 .8 l2.6 -1.2 l1.2 .2" stroke="#a02810" stroke-width="1.3" fill="none"/><path d="M540.5 17.8 l2.6 -.6 l2 .6 l3 -2.2 l2.6 2" stroke="#1f9430" stroke-width="1.2" fill="none"/>
<g shape-rendering="crispEdges" fill="#000"><rect x="561" y="12" width="5" height="1"/><rect x="562" y="13" width="3" height="1"/><rect x="563" y="14" width="1" height="1"/></g>
<rect x="572" y="0" width="1" height="25" fill="#a0a0a0" shape-rendering="crispEdges"/><rect x="573" y="0" width="1" height="25" fill="#fff" shape-rendering="crispEdges"/>
<rect x="576" y="3" width="3" height="1" fill="#b4b4b4" shape-rendering="crispEdges"/>
<rect x="576" y="5" width="3" height="1" fill="#b4b4b4" shape-rendering="crispEdges"/>
<rect x="576" y="7" width="3" height="1" fill="#b4b4b4" shape-rendering="crispEdges"/>
<rect x="576" y="9" width="3" height="1" fill="#b4b4b4" shape-rendering="crispEdges"/>
<rect x="576" y="11" width="3" height="1" fill="#b4b4b4" shape-rendering="crispEdges"/>
<rect x="576" y="13" width="3" height="1" fill="#b4b4b4" shape-rendering="crispEdges"/>
<rect x="576" y="15" width="3" height="1" fill="#b4b4b4" shape-rendering="crispEdges"/>
<rect x="576" y="17" width="3" height="1" fill="#b4b4b4" shape-rendering="crispEdges"/>
<rect x="576" y="19" width="3" height="1" fill="#b4b4b4" shape-rendering="crispEdges"/>
<rect x="576" y="21" width="3" height="1" fill="#b4b4b4" shape-rendering="crispEdges"/>
<g shape-rendering="crispEdges"><rect x="582" y="1" width="25" height="22" fill="#f6f6f6"/><rect x="582" y="1" width="25" height="1" fill="#a0a0a0"/><rect x="582" y="1" width="1" height="22" fill="#a0a0a0"/><rect x="582" y="22" width="25" height="1" fill="#fff"/><rect x="606" y="1" width="1" height="22" fill="#fff"/></g>
<path d="M590 6.2 v11.4 l2.6 -2.4 l2 4.6 l1.9 -.9 l-2 -4.4 h3.7z" fill="#4a4a4a"/>
<g stroke="#4a4a4a" stroke-width="1" shape-rendering="crispEdges"><line x1="622.5" y1="6" x2="622.5" y2="12"/><line x1="622.5" y1="14" x2="622.5" y2="21"/><line x1="615" y1="13.5" x2="621" y2="13.5"/><line x1="624" y1="13.5" x2="630" y2="13.5"/></g>
<rect x="639" y="2" width="1" height="21" fill="#a0a0a0" shape-rendering="crispEdges"/>
<rect x="656" y="7" width="1" height="13" fill="#4a4a4a" shape-rendering="crispEdges"/>
<rect x="679" y="13" width="12" height="1" fill="#4a4a4a" shape-rendering="crispEdges"/>
<line x1="707" y1="19.8" x2="718.8" y2="8.2" stroke="#4a4a4a" stroke-width="1.1"/>
<g stroke="#4a4a4a" stroke-width="1" fill="none"><path d="M733 15 L746 7 M734 19.4 L747 11.4"/><path d="M736 17 l2 -6 M739.4 15.2 l2 -6 M742.8 13.4 l2 -6" stroke-width=".9"/></g>
<text x="744" y="21.6" font-size="7" font-weight="bold" fill="#4a4a4a">E</text>
<line x1="762" y1="6.5" x2="776" y2="6.5" stroke="#4a4a4a" stroke-width="1" stroke-dasharray="1,1" shape-rendering="crispEdges"/>
<line x1="762" y1="9.5" x2="776" y2="9.5" stroke="#4a4a4a" stroke-width="1" stroke-dasharray="1,1" shape-rendering="crispEdges"/>
<line x1="762" y1="13.5" x2="776" y2="13.5" stroke="#4a4a4a" stroke-width="1" stroke-dasharray="1,1" shape-rendering="crispEdges"/>
<line x1="762" y1="17.5" x2="772" y2="17.5" stroke="#4a4a4a" stroke-width="1" stroke-dasharray="1,1" shape-rendering="crispEdges"/>
<text x="771.6" y="21.6" font-size="7" font-weight="bold" fill="#4a4a4a">F</text>
<text x="792" y="17.6" font-size="12.5" font-weight="bold" fill="#4a4a4a">A</text>
<rect x="819.5" y="7.5" width="11" height="12" fill="none" stroke="#4a4a4a" stroke-width="1" stroke-dasharray="1,1" shape-rendering="crispEdges"/><path d="M821.4 9.6 h7.4 M825.1 9.6 v8.4" stroke="#4a4a4a" stroke-width="1.6" fill="none"/>
<path d="M849.6 7.4 l3 3 l-3 3 l-3 -3z M857 14 l3 3 l-3 3 l-3 -3z" fill="#4a4a4a"/><path d="M849 14.6 l2.4 2.4 l5.6 -6.4" stroke="#4a4a4a" stroke-width="1.2" fill="none"/>
<g shape-rendering="crispEdges" fill="#000"><rect x="867" y="12" width="5" height="1"/><rect x="868" y="13" width="3" height="1"/><rect x="869" y="14" width="1" height="1"/></g>
<rect x="878" y="0" width="1" height="25" fill="#a0a0a0" shape-rendering="crispEdges"/><rect x="879" y="0" width="1" height="25" fill="#fff" shape-rendering="crispEdges"/>
<rect x="882" y="3" width="3" height="1" fill="#b4b4b4" shape-rendering="crispEdges"/>
<rect x="882" y="5" width="3" height="1" fill="#b4b4b4" shape-rendering="crispEdges"/>
<rect x="882" y="7" width="3" height="1" fill="#b4b4b4" shape-rendering="crispEdges"/>
<rect x="882" y="9" width="3" height="1" fill="#b4b4b4" shape-rendering="crispEdges"/>
<rect x="882" y="11" width="3" height="1" fill="#b4b4b4" shape-rendering="crispEdges"/>
<rect x="882" y="13" width="3" height="1" fill="#b4b4b4" shape-rendering="crispEdges"/>
<rect x="882" y="15" width="3" height="1" fill="#b4b4b4" shape-rendering="crispEdges"/>
<rect x="882" y="17" width="3" height="1" fill="#b4b4b4" shape-rendering="crispEdges"/>
<rect x="882" y="19" width="3" height="1" fill="#b4b4b4" shape-rendering="crispEdges"/>
<rect x="882" y="21" width="3" height="1" fill="#b4b4b4" shape-rendering="crispEdges"/>
<g shape-rendering="crispEdges"><rect x="1028" y="1" width="26" height="22" fill="#f6f6f6"/><rect x="1028" y="1" width="26" height="1" fill="#a0a0a0"/><rect x="1028" y="1" width="1" height="22" fill="#a0a0a0"/><rect x="1028" y="22" width="26" height="1" fill="#fff"/><rect x="1053" y="1" width="1" height="22" fill="#fff"/></g>
<text x="899.7" y="17" font-size="9.6" fill="#3c3c3c" text-anchor="middle" transform="rotate(0.03 899.7 17)">M1</text>
<text x="927.8" y="17" font-size="9.6" fill="#3c3c3c" text-anchor="middle" transform="rotate(0.03 927.8 17)">M5</text>
<text x="956.4" y="17" font-size="9.6" fill="#3c3c3c" text-anchor="middle" transform="rotate(0.03 956.4 17)">M15</text>
<text x="984.3" y="17" font-size="9.6" fill="#3c3c3c" text-anchor="middle" transform="rotate(0.03 984.3 17)">M30</text>
<text x="1012.3" y="17" font-size="9.6" fill="#3c3c3c" text-anchor="middle" transform="rotate(0.03 1012.3 17)">H1</text>
<text x="1040" y="17" font-size="9.6" fill="#3c3c3c" text-anchor="middle" transform="rotate(0.03 1040 17)">H4</text>
<text x="1068.3" y="17" font-size="9.6" fill="#3c3c3c" text-anchor="middle" transform="rotate(0.03 1068.3 17)">D1</text>
<text x="1097" y="17" font-size="9.6" fill="#3c3c3c" text-anchor="middle" transform="rotate(0.03 1097 17)">W1</text>
<text x="1124" y="17" font-size="9.6" fill="#3c3c3c" text-anchor="middle" transform="rotate(0.03 1124 17)">MN</text>
<rect x="1139" y="0" width="1" height="25" fill="#a0a0a0" shape-rendering="crispEdges"/><rect x="1140" y="0" width="1" height="25" fill="#fff" shape-rendering="crispEdges"/>
<line x1="1606.4" y1="14" x2="1602.2" y2="17.8" stroke="#2a5fd0" stroke-width="2.6" stroke-linecap="round"/><circle cx="1609.6" cy="10.4" r="4" fill="none" stroke="#2a5fd0" stroke-width="1.3"/>
<path d="M1629 21.4 l1 -2.4 a6 4.8 0 1 1 2.6 .9z" fill="#e4e4ee" stroke="#b4b4b8" stroke-width="1"/>
<defs><linearGradient id="bg1" x1="0" y1="0" x2="0" y2="1"><stop offset="0" stop-color="#ea5434"/><stop offset="1" stop-color="#d41c0c"/></linearGradient></defs>
<circle cx="1640.5" cy="10.4" r="8.2" fill="url(#bg1)"/><text x="1640.3" y="14.7" font-size="12" fill="#fff" text-anchor="middle">1</text>
<g shape-rendering="crispEdges"><rect x="0" y="25" width="1654" height="1" fill="#a0a0a0"/><rect x="0" y="26" width="1653" height="1" fill="#696969"/></g></svg></div>
</body></html>
